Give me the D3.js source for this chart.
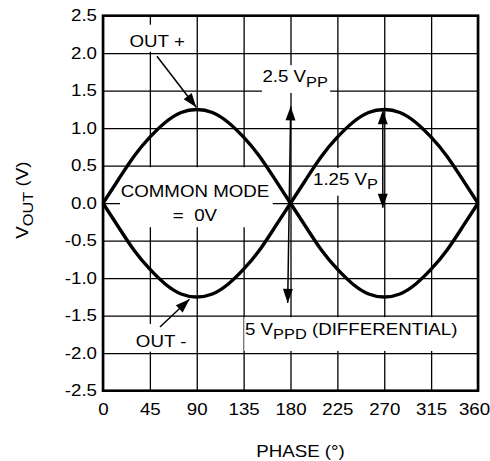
<!DOCTYPE html>
<html>
<head>
<meta charset="utf-8">
<script src="https://cdn.jsdelivr.net/npm/d3@7"></script>
<style>
body { margin: 0; background: #fff; }
svg text { font-family: "Liberation Sans", Arial, Helvetica, sans-serif; fill: #000; }
</style>
</head>
<body>
<svg id="chart" width="490" height="461"></svg>
<script>
// values, every 15 degrees
var phase = [0, 15, 30, 45, 60, 75, 90, 105, 120, 135, 150, 165, 180,
             195, 210, 225, 240, 255, 270, 285, 300, 315, 330, 345, 360];
var outPlus = [0, 0.32, 0.63, 0.88, 1.08, 1.21, 1.25, 1.21, 1.08, 0.88, 0.63, 0.32, 0,
               -0.32, -0.63, -0.88, -1.08, -1.21, -1.25, -1.21, -1.08, -0.88, -0.63, -0.32, 0];
var outMinus = [0, -0.32, -0.63, -0.88, -1.08, -1.21, -1.25, -1.21, -1.08, -0.88, -0.63, -0.32, 0,
                0.32, 0.63, 0.88, 1.08, 1.21, 1.25, 1.21, 1.08, 0.88, 0.63, 0.32, 0];

var phaseTicks = [0, 45, 90, 135, 180, 225, 270, 315, 360];
var voltTicks = [-2.5, -2, -1.5, -1, -0.5, 0, 0.5, 1, 1.5, 2, 2.5];
var voltLabels = ["-2.5", "-2.0", "-1.5", "-1.0", "-0.5", "0.0", "0.5", "1.0", "1.5", "2.0", "2.5"];

// annotation boxes [phase0, volt0, phase1, volt1]
var boxes = [
    [21, 2.38, 82, 2.02],      // OUT +
    [30, -1.61, 82.5, -1.98],  // OUT -
    [16.3, 0.48, 163, -0.32],  // COMMON MODE
    [152.6, 1.84, 218, 1.47],  // 2.5 Vpp
    [200.6, 0.47, 267, 0.1],   // 1.25 Vp
    [135.6, -1.52, 345, -1.97] // 5 Vppd
];

var SX = 1.17; // the source lettering is a bit wide

var svg = d3.select("#chart"),
    margin = {top: 15.7, right: 12, bottom: 70.3, left: 103},
    width = +svg.attr("width") - margin.left - margin.right,
    height = +svg.attr("height") - margin.top - margin.bottom;

var g = svg.append("g").attr("transform", "translate(" + margin.left + "," + margin.top + ")");

var x = d3.scaleLinear().domain([0, 360]).range([0, width]);
var y = d3.scaleLinear().domain([-2.5, 2.5]).range([height, 0]);

// grid + tick labels
var yAxis = g.append("g")
    .call(d3.axisLeft(y).tickValues(voltTicks)
        .tickFormat(function(d, i) { return voltLabels[i]; })
        .tickSize(-width).tickPadding(0));
var xAxis = g.append("g")
    .attr("transform", "translate(0," + height + ")")
    .call(d3.axisBottom(x).tickValues(phaseTicks).tickSize(-height).tickPadding(0));

[yAxis, xAxis].forEach(function(a) {
    a.select(".domain").remove();
    a.selectAll(".tick line").attr("stroke", "#000").attr("stroke-width", 1.3);
    a.selectAll(".tick text").attr("font-size", 16).attr("font-family", null);
});
yAxis.selectAll(".tick text").attr("x", null)
    .attr("transform", "translate(-6,0) scale(" + SX + ",1)");
// last label sits on the window edge, nudge it in a little
xAxis.selectAll(".tick text").attr("y", null)
    .attr("transform", function(d) {
        return "translate(" + (d === 360 ? -4 : 0) + ",12.5) scale(" + SX + ",1)";
    });

// white label boxes
g.selectAll("rect.box")
    .data(boxes)
    .enter().append("rect")
    .attr("class", "box")
    .attr("x", function(d) { return x(d[0]); })
    .attr("y", function(d) { return y(d[1]); })
    .attr("width", function(d) { return x(d[2]) - x(d[0]); })
    .attr("height", function(d) { return y(d[3]) - y(d[1]); })
    .attr("fill", "#fff");

// curves
var line = d3.line()
    .x(function(d, i) { return x(phase[i]); })
    .y(function(d) { return y(d); })
    .curve(d3.curveNatural);

[outPlus, outMinus].forEach(function(s) {
    g.append("path")
        .attr("d", line(s))
        .attr("fill", "none")
        .attr("stroke", "#000")
        .attr("stroke-width", 3.4);
});

// arrows
svg.append("defs").append("marker")
    .attr("id", "head")
    .attr("markerUnits", "userSpaceOnUse")
    .attr("viewBox", "-15 -6 16 12")
    .attr("refX", 0).attr("refY", 0)
    .attr("markerWidth", 16).attr("markerHeight", 12)
    .attr("orient", "auto-start-reverse")
    .append("path")
    .attr("d", "M0,0L-14,-5L-14,5Z")
    .attr("fill", "#000");

function arrow(p0, v0, p1, v1, both) {
    var a = g.append("line")
        .attr("x1", x(p0)).attr("y1", y(v0))
        .attr("x2", x(p1)).attr("y2", y(v1))
        .attr("stroke", "#000")
        .attr("stroke-width", 1.5)
        .attr("marker-end", "url(#head)");
    if (both) a.attr("marker-start", "url(#head)");
}

arrow(51.8, 1.96, 89.5, 1.28);
arrow(54.7, -1.65, 83, -1.28);
arrow(180.2, 1.29, 177.3, -1.33, true);
arrow(268.6, 1.24, 268.6, -0.06, true);

// labels: parts = [[text, isSub], ...]
function label(p, v, parts, anchor) {
    var t = g.append("text")
        .attr("transform", "translate(" + x(p) + "," + y(v) + ") scale(" + SX + ",1)")
        .attr("text-anchor", anchor || "start")
        .attr("font-size", 16);
    var shift = 0;
    parts.forEach(function(pt) {
        var sub = pt[1];
        var dy = sub ? 4.5 - shift : -shift;
        shift = sub ? 4.5 : 0;
        t.append("tspan")
            .attr("dy", dy)
            .attr("font-size", sub ? 14 : 16)
            .text(pt[0]);
    });
    return t;
}

label(52, 2.08, [["OUT +"]], "middle");
label(55.8, -1.92, [["OUT -"]], "middle");
label(88.3, 0.083, [["COMMON MODE"]], "middle");
label(88.3, -0.237, [["=\u00a0 0V"]], "middle");
label(153, 1.616, [["2.5 V"], ["PP", true]]);
label(201.6, 0.243, [["1.25 V"], ["P", true]]);
label(136.3, -1.757, [["5 V"], ["PPD", true], [" (DIFFERENTIAL)"]]);

// frame
g.append("rect")
    .attr("width", width).attr("height", height)
    .attr("fill", "none")
    .attr("stroke", "#000")
    .attr("stroke-width", 2.6);

// axis titles
svg.append("text")
    .attr("transform", "translate(" + (margin.left + width / 2 + 10) + ",457) scale(" + SX + ",1)")
    .attr("text-anchor", "middle")
    .attr("font-size", 16)
    .text("PHASE (°)");

var yt = svg.append("text")
    .attr("transform", "translate(28," + (margin.top + height / 2 - 3) + ") rotate(-90) scale(" + SX + ",1)")
    .attr("text-anchor", "middle")
    .attr("font-size", 16);
yt.append("tspan").text("V");
yt.append("tspan").attr("dy", 4.5).attr("font-size", 14).text("OUT");
yt.append("tspan").attr("dy", -4.5).text(" (V)");
</script>
</body>
</html>
